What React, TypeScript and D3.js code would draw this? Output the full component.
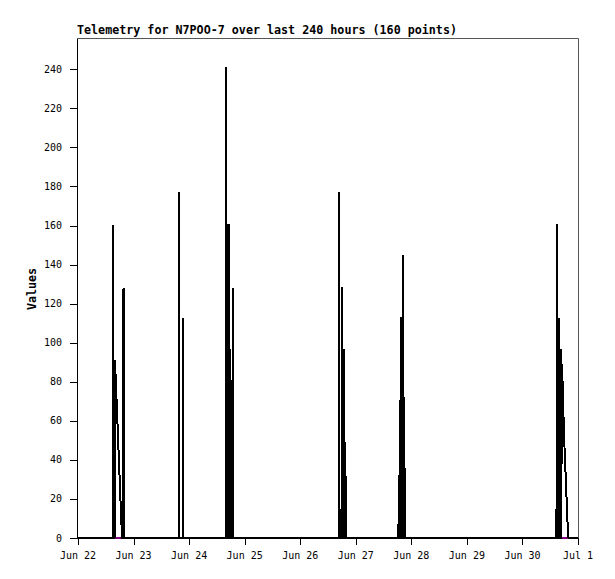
import React from 'react';
import * as d3 from 'd3';

// hours after Jun 22 00:00 -> reading
const telemetry: [number, number][] = [
  [0, 0],
  [15.24, 0], [15.29, 160], [15.34, 0], [15.92, 0], [15.98, 91], [16.33, 80], [16.68, 70],
  [17.02, 60], [17.37, 49], [17.71, 39], [18.06, 28], [18.4, 18], [18.75, 8],
  [19.01, 0], [19.61, 0], [19.66, 128], [19.71, 0],
  [43.54, 0], [43.59, 177], [43.64, 0], [45.35, 0], [45.4, 112.5], [45.45, 0],
  [64.06, 0], [64.11, 241], [64.16, 0], [64.67, 161], [64.93, 0], [65.19, 161],
  [65.4, 0], [65.75, 97], [66.01, 0], [66.31, 81], [66.57, 0], [67.0, 0], [67.05, 128], [67.1, 0],
  [112.57, 0], [112.62, 177], [112.67, 0], [113.83, 0], [113.88, 128.5], [114.13, 0],
  [114.44, 97], [114.7, 0], [114.96, 97], [115.17, 0], [115.47, 49], [115.73, 0],
  [138.37, 0], [138.8, 32], [139.06, 0], [139.49, 113], [139.75, 0], [140.22, 0], [140.27, 145],
  [140.53, 0], [140.92, 72], [141.18, 0],
  [206.71, 0], [206.76, 161], [206.81, 0], [207.27, 97], [207.53, 0], [207.96, 112.5],
  [208.22, 0], [208.48, 97], [208.74, 0], [209.09, 89], [209.43, 76], [209.74, 62],
  [210.08, 49], [210.6, 34], [211.03, 21], [211.46, 8], [211.81, 0],
  [216, 0],
];

// second channel, only visible where it sits at zero
const idleChannelA: [number, number][] = [[15.98, 0], [18.8, 0]];
const idleChannelB: [number, number][] = [[209.09, 0], [211.46, 0]];

const yTicks = [0, 20, 40, 60, 80, 100, 120, 140, 160, 180, 200, 220, 240];
const dayCount = 9;
const start = new Date(Date.UTC(2023, 5, 22));
const monthNames = ['Jan', 'Feb', 'Mar', 'Apr', 'May', 'Jun', 'Jul', 'Aug', 'Sep', 'Oct', 'Nov', 'Dec'];

const title = 'Telemetry for N7POO-7 over last 240 hours (160 points)';

const W = 615;
const H = 579;
const left = 77.5;
const right = 578.5;
const top = 38.5;
const bottom = 538;

export default function App() {
  const x = d3.scaleUtc()
    .domain([start, d3.utcDay.offset(start, dayCount)])
    .range([78, 578]);
  const y = d3.scaleLinear().domain([0, 256]).range([bottom, 38]);

  const px = (h: number) => x(d3.utcMinute.offset(start, Math.round(h * 60)));
  const line = d3.line<[number, number]>()
    .x(d => px(d[0]))
    .y(d => y(d[1]));

  const days = d3.utcDay.range(start, d3.utcDay.offset(start, dayCount + 1));
  const mono = '"DejaVu Sans Mono", monospace';

  return (
    <svg width={W} height={H} style={{ position: 'absolute', left: 0, top: 0, background: '#fff' }}>
      <text x={77} y={34} fontFamily={mono} fontWeight="bold" fontSize={11.7} fill="#000">{title}</text>
      <text transform="translate(36,289) rotate(-90)" textAnchor="middle" fontFamily={mono}
        fontWeight="bold" fontSize={11.7} fill="#000">Values</text>

      {/* frame */}
      <line x1={left} x2={right} y1={top} y2={top} stroke="#555" />
      <line x1={right} x2={right} y1={top} y2={bottom} stroke="#555" />
      <line x1={left} x2={left} y1={top} y2={bottom + 1} stroke="#000" />
      <line x1={left} x2={right} y1={bottom + 0.5} y2={bottom + 0.5} stroke="#000" />

      {yTicks.map(t => (
        <g key={t}>
          <line x1={70} x2={77} y1={Math.round(y(t)) + 0.5} y2={Math.round(y(t)) + 0.5} stroke="#000" />
          <text x={62} y={y(t)} dy="0.35em" textAnchor="end" fontFamily={mono} fontSize={10} fill="#000">{t}</text>
        </g>
      ))}

      {days.map(d => (
        <g key={d.getTime()}>
          <line x1={Math.round(x(d)) + 0.5} x2={Math.round(x(d)) + 0.5} y1={bottom} y2={545} stroke="#000" />
          <text x={x(d)} y={559} textAnchor="middle" fontFamily={mono} fontSize={10} fill="#000">
            {monthNames[d.getUTCMonth()] + ' ' + d.getUTCDate()}
          </text>
        </g>
      ))}

      <path d={line(idleChannelA) ?? ''} fill="none" stroke="#800080" strokeWidth={2} shapeRendering="crispEdges" />
      <path d={line(idleChannelB) ?? ''} fill="none" stroke="#800080" strokeWidth={2} shapeRendering="crispEdges" />
      <path d={line(telemetry) ?? ''} fill="none" stroke="#000" strokeWidth={2}
        strokeLinejoin="miter" strokeMiterlimit={1} shapeRendering="crispEdges" />
    </svg>
  );
}
